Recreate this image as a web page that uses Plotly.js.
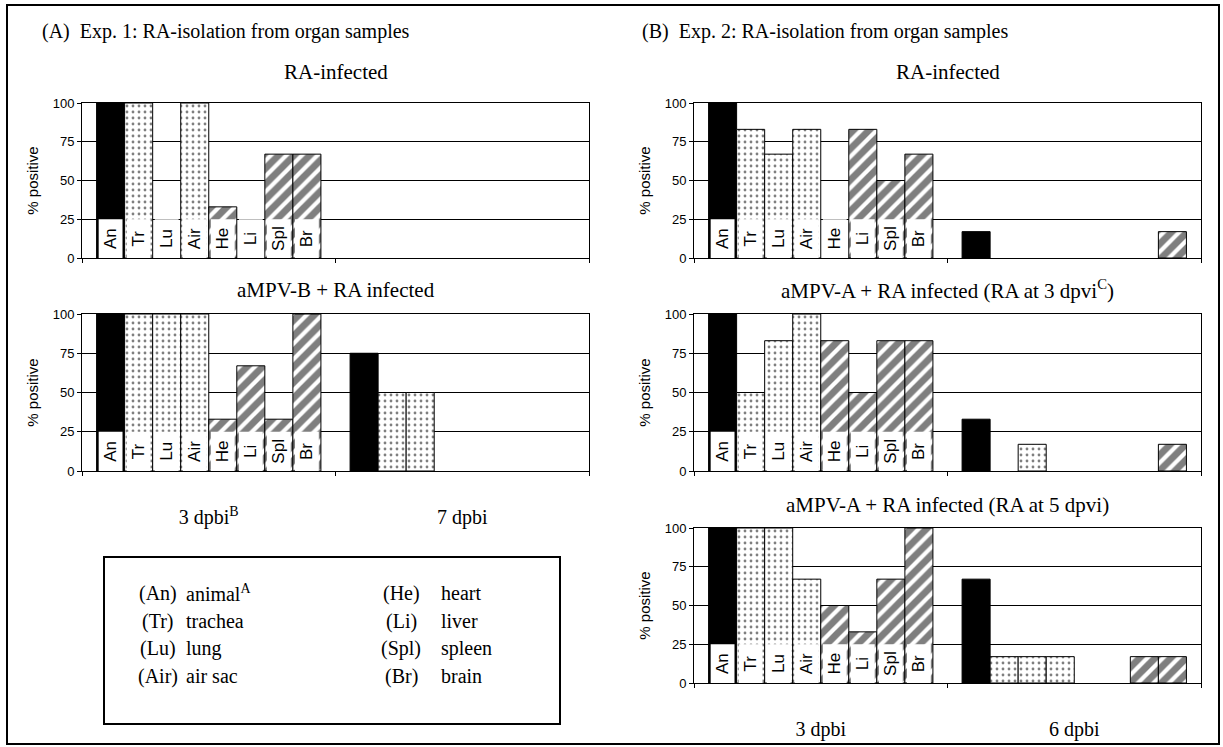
<!DOCTYPE html>
<html><head><meta charset="utf-8">
<script src="https://cdn.plot.ly/plotly-3.0.1.min.js"></script>
<style>html,body{margin:0;padding:0;background:#fff}</style>
</head><body><div id="chart" style="width:1223px;height:747px"></div>
<script>
// ---------- DATA ----------
const organs = ["An","Tr","Lu","Air","He","Li","Spl","Br"];
const organNames = ["animal<sup>A</sup>","trachea","lung","air sac","heart","liver","spleen","brain"];
const groupsA = ["3 dpbi","7 dpbi"];
const groupTextA = ["3 dpbi<sup>B</sup>","7 dpbi"];
const groupsB = ["3 dpbi","6 dpbi"];
const groupTextB = ["3 dpbi","6 dpbi"];

// % positive per organ (An, Tr, Lu, Air, He, Li, Spl, Br)
const expA_RA_3dpbi  = [100,100,  0,100, 33,  0, 67, 67];
const expA_RA_7dpbi  = [  0,  0,  0,  0,  0,  0,  0,  0];
const expA_B_3dpbi   = [100,100,100,100, 33, 67, 33,100];
const expA_B_7dpbi   = [ 75, 50, 50,  0,  0,  0,  0,  0];
const expB_RA_3dpbi  = [100, 83, 67, 83,  0, 83, 50, 67];
const expB_RA_6dpbi  = [ 17,  0,  0,  0,  0,  0,  0, 17];
const expB_A3_3dpbi  = [100, 50, 83,100, 83, 50, 83, 83];
const expB_A3_6dpbi  = [ 33,  0, 17,  0,  0,  0,  0, 17];
const expB_A5_3dpbi  = [100,100,100, 67, 50, 33, 67,100];
const expB_A5_6dpbi  = [ 67, 17, 17, 17,  0,  0, 17, 17];

const labelBoxHeight = 25;   // height of the white organ-label boxes (% scale)

const panelTitles = [
  "RA-infected",
  "aMPV-B + RA infected",
  "RA-infected",
  "aMPV-A + RA infected (RA at 3 dpvi<sup>C</sup>)",
  "aMPV-A + RA infected (RA at 5 dpvi)"
];
const headerA = "(A)\u00a0\u00a0Exp. 1: RA-isolation from organ samples";
const headerB = "(B)\u00a0\u00a0Exp. 2: RA-isolation from organ samples";
const yTitle = "% positive";

// ---------- LAYOUT HELPERS ----------
const W = 1223, H = 747;
const px = v => v / W;
const py = v => 1 - v / H;
const serif = "Liberation Serif, Times New Roman, serif";
const sans = "Liberation Sans, Arial, sans-serif";

function organStyle(i) {
  if (i === 0) return {color: "#000", pattern: {shape: ""}};
  if (i <= 3) return {color: "#fff", pattern: {shape: ".", fgcolor: "#000", bgcolor: "#fff", size: 6, solidity: 0.17, fillmode: "overlay"}};
  return {color: "#fff", pattern: {shape: "/", fgcolor: "#000", bgcolor: "#fff", size: 11, solidity: 0.62, fillmode: "overlay"}};
}

const subplots = [
  {groups: groupsA, text: groupTextA, early: expA_RA_3dpbi, late: expA_RA_7dpbi, xd: [82, 589], yd: [103, 258], showTicks: false},
  {groups: groupsA, text: groupTextA, early: expA_B_3dpbi,  late: expA_B_7dpbi,  xd: [82, 589], yd: [314, 471], showTicks: true},
  {groups: groupsB, text: groupTextB, early: expB_RA_3dpbi, late: expB_RA_6dpbi, xd: [694, 1201], yd: [103, 258], showTicks: false},
  {groups: groupsB, text: groupTextB, early: expB_A3_3dpbi, late: expB_A3_6dpbi, xd: [694, 1201], yd: [314, 471], showTicks: false},
  {groups: groupsB, text: groupTextB, early: expB_A5_3dpbi, late: expB_A5_6dpbi, xd: [694, 1201], yd: [528, 683], showTicks: true}
];
const titleY = [72, 290, 72, 290, 505];

const data = [];
const layout = {
  width: W, height: H,
  margin: {l: 0, r: 0, t: 0, b: 0},
  paper_bgcolor: "#fff", plot_bgcolor: "#fff",
  barmode: "group", bargap: 0.115, bargroupgap: 0,
  showlegend: false,
  hovermode: false,
  annotations: [], shapes: []
};

subplots.forEach((sp, k) => {
  const n = k + 1;
  const xa = "x" + (n === 1 ? "" : n), ya = "y" + (n === 1 ? "" : n);
  // main bars
  organs.forEach((org, i) => {
    const st = organStyle(i);
    const vals = [sp.early[i], sp.late[i]];
    data.push({
      type: "bar", xaxis: xa, yaxis: ya,
      x: sp.groups, y: vals,
      name: org, offsetgroup: "g" + i,
      marker: {color: st.color, pattern: st.pattern,
               line: {color: "#000", width: vals.map(v => v > 0 ? 1 : 0)}},
      hoverinfo: "skip"
    });
  });
  // label boxes in the first group
  organs.forEach((org, i) => {
    data.push({
      type: "bar", xaxis: xa, yaxis: ya,
      x: [sp.groups[0]], y: [labelBoxHeight], base: 0,
      offsetgroup: "g" + i, width: 0.094,
      text: [org], textposition: "inside", insidetextanchor: "middle",
      textangle: -90, constraintext: "none",
      textfont: {family: sans, size: 17, color: "#000"},
      marker: {color: "#fff", line: {width: 0}},
      hoverinfo: "skip"
    });
  });
  const xKey = "xaxis" + (n === 1 ? "" : n), yKey = "yaxis" + (n === 1 ? "" : n);
  layout[xKey] = {
    domain: [px(sp.xd[0]), px(sp.xd[1])], anchor: ya,
    type: "category", categoryorder: "array", categoryarray: sp.groups,
    tickmode: "array", tickvals: sp.groups, ticktext: sp.text,
    tickson: "boundaries", ticks: "outside", ticklen: 4, tickcolor: "#000",
    showticklabels: sp.showTicks, ticklabelstandoff: 28,
    tickfont: {family: serif, size: 20, color: "#000"},
    showline: true, linecolor: "#000", linewidth: 1, mirror: true,
    showgrid: false, zeroline: false, fixedrange: true
  };
  layout[yKey] = {
    domain: [py(sp.yd[1]), py(sp.yd[0])], anchor: xa,
    range: [0, 100], tickmode: "array", tickvals: [0, 25, 50, 75, 100],
    ticks: "outside", ticklen: 4, tickcolor: "#000",
    tickfont: {family: sans, size: 13, color: "#000"},
    showline: true, linecolor: "#000", linewidth: 1, mirror: true,
    showgrid: true, gridcolor: "#000", gridwidth: 1, zeroline: false,
    title: {text: yTitle, font: {family: sans, size: 15, color: "#000"}, standoff: 10},
    fixedrange: true
  };
  layout.annotations.push({
    xref: "paper", yref: "paper",
    x: px((sp.xd[0] + sp.xd[1]) / 2), y: py(titleY[k]),
    xanchor: "center", yanchor: "middle", showarrow: false,
    text: panelTitles[k], font: {family: serif, size: 21, color: "#000"}
  });
});

// headers
layout.annotations.push({xref: "paper", yref: "paper", x: px(40), y: py(32), xanchor: "left", yanchor: "middle",
  showarrow: false, text: headerA, font: {family: serif, size: 20, color: "#000"}});
layout.annotations.push({xref: "paper", yref: "paper", x: px(640), y: py(32), xanchor: "left", yanchor: "middle",
  showarrow: false, text: headerB, font: {family: serif, size: 20, color: "#000"}});

// legend box text
const legendRows = [593, 621, 648, 676];
organs.forEach((org, i) => {
  const col = i < 4 ? 0 : 1;
  const row = i % 4;
  const codeX = col === 0 ? 158 : 401;
  const nameX = col === 0 ? 184 : 439;
  layout.annotations.push({xref: "paper", yref: "paper", x: px(codeX), y: py(legendRows[row]),
    xanchor: "center", yanchor: "middle", showarrow: false,
    text: "(" + org + ")", font: {family: serif, size: 20, color: "#000"}});
  layout.annotations.push({xref: "paper", yref: "paper", x: px(nameX), y: py(legendRows[row]),
    xanchor: "left", yanchor: "middle", showarrow: false,
    text: organNames[i], font: {family: serif, size: 20, color: "#000"}});
});

// frames
layout.shapes.push({type: "rect", xref: "paper", yref: "paper", x0: px(7), x1: px(1219), y0: py(744), y1: py(5),
  line: {color: "#000", width: 2}, fillcolor: "rgba(0,0,0,0)"});
layout.shapes.push({type: "rect", xref: "paper", yref: "paper", x0: px(104), x1: px(560), y0: py(724), y1: py(557),
  line: {color: "#000", width: 2}, fillcolor: "rgba(0,0,0,0)"});

Plotly.newPlot("chart", data, layout, {displayModeBar: false, staticPlot: true});
</script>
</body></html>
